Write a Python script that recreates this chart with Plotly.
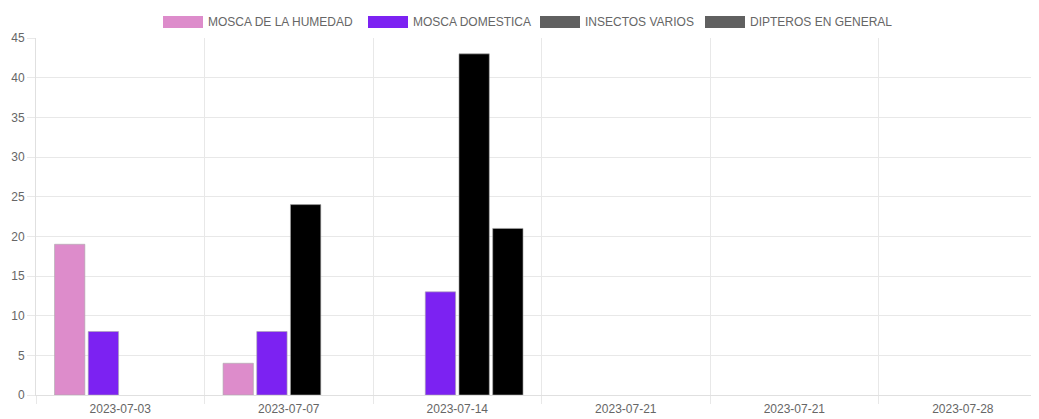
import plotly.graph_objects as go

categories = ["2023-07-03", "2023-07-07", "2023-07-14", "2023-07-21", "2023-07-21", "2023-07-28"]
series_names = ["MOSCA DE LA HUMEDAD", "MOSCA DOMESTICA", "INSECTOS VARIOS", "DIPTEROS EN GENERAL"]
mosca_humedad = [19, 4, 0, 0, 0, 0]
mosca_domestica = [8, 8, 13, 0, 0, 0]
insectos_varios = [0, 24, 43, 0, 0, 0]
dipteros_general = [0, 0, 21, 0, 0, 0]
colors = ["#dd8ccb", "#7c22f2", "#000000", "#000000"]
legend_colors = ["#dd8ccb", "#7c22f2", "#606060", "#606060"]
y_ticks = [0, 5, 10, 15, 20, 25, 30, 35, 40, 45]

OFF = 8  # default page body margin
W, H = 1031, 411
L, R, T, B = 28, 2, 30, 24
PW, PH = W - L - R, H - T - B

positions = list(range(len(categories)))
series = [mosca_humedad, mosca_domestica, insectos_varios, dipteros_general]

fig = go.Figure()
for name, vals, col in zip(series_names, series, colors):
    fig.add_trace(go.Bar(
        x=positions, y=vals, name=name, showlegend=False,
        marker=dict(color=col,
                    line=dict(color="rgba(170,170,170,0.6)",
                              width=[1 if v > 0 else 0 for v in vals])),
    ))

# custom Chart.js-like legend (wide colour boxes)
def px_x(p):
    return (p - OFF - L) / PW

def px_y(p):
    return 1 + (T + OFF - p) / PH

box_left = [163, 368, 540, 705]
for name, col, bx in zip(series_names, legend_colors, box_left):
    fig.add_shape(type="rect", xref="paper", yref="paper",
                  x0=px_x(bx), x1=px_x(bx + 40), y0=px_y(28), y1=px_y(16),
                  fillcolor=col, line=dict(width=0), layer="above")
    fig.add_annotation(xref="paper", yref="paper", x=px_x(bx + 43), y=px_y(22),
                       xanchor="left", yanchor="middle", showarrow=False,
                       text=name, font=dict(size=12, color="#666"))

fig.update_layout(
    width=W, height=H,
    margin=dict(l=L, r=R, t=T, b=B, autoexpand=False),
    paper_bgcolor="white", plot_bgcolor="white",
    barmode="group", bargap=0.2, bargroupgap=0.1,
    font=dict(family="Liberation Sans, Arial, sans-serif", size=12, color="#666"),
    showlegend=False,
)
fig.update_xaxes(
    range=[-0.5, len(categories) - 0.56],
    tickmode="array", tickvals=positions, ticktext=categories,
    showgrid=False, ticks="", showline=True, linecolor="#e0e0e0",
    tickfont=dict(size=12, color="#666"), ticklabelstandoff=3,
    minor=dict(tickmode="linear", tick0=-0.5, dtick=1, showgrid=True,
               gridcolor="#e8e8e8", gridwidth=1, ticks="outside", ticklen=8,
               tickcolor="#e8e8e8"),
    automargin=False, fixedrange=True,
)
fig.update_yaxes(
    range=[0, 45], tickmode="array", tickvals=y_ticks,
    showgrid=True, gridcolor="#e8e8e8", gridwidth=1,
    showline=True, linecolor="#e0e0e0", zeroline=False,
    ticks="outside", ticklen=8, tickcolor="#e8e8e8",
    tickfont=dict(size=12, color="#666"),
    automargin=False, fixedrange=True,
)

fig.write_html("out.html")
